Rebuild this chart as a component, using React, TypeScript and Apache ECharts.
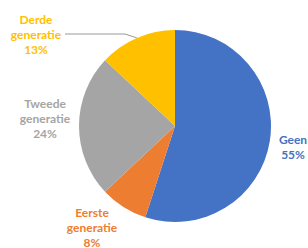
import React, { useEffect, useRef } from "react";
import * as echarts from "echarts";

const categories = ["Geen", "Eerste\ngeneratie", "Tweede\ngeneratie", "Derde\ngeneratie"];
const values = [55, 8, 24, 13];
const colors = ["#4472C4", "#ED7D31", "#A5A5A5", "#FFC000"];
const labelPos = [
  { x: 293, y: 147 },
  { x: 92, y: 227 },
  { x: 45, y: 118 },
  { x: 36, y: 34 },
];

export default function App() {
  const ref = useRef<HTMLDivElement>(null);
  useEffect(() => {
    if (!ref.current) return;
    const chart = echarts.init(ref.current, null, { renderer: "svg" });
    chart.setOption({
      animation: false,
      backgroundColor: "#ffffff",
      series: [
        {
          type: "pie",
          center: [175, 126],
          radius: 96,
          startAngle: 90,
          clockwise: true,
          avoidLabelOverlap: false,
          data: categories.map((c, i) => ({
            name: c,
            value: values[i],
            itemStyle: { color: colors[i] },
            label: { color: colors[i] },
            labelLine: { show: i === 3, lineStyle: { color: "#9A9A9A", width: 1 } },
          })),
          label: {
            show: true,
            position: "outside",
            formatter: (p: any) => `${p.name}\n${p.value}%`,
            fontFamily: "Lato",
            fontWeight: "bold",
            fontSize: 12,
            lineHeight: 15,
            align: "center",
            overflow: "none",
            width: 58,
          },
          labelLine: { length: 0, length2: 60, smooth: false },
          labelLayout: (params: any) => {
            const p = labelPos[params.dataIndex];
            return { x: p.x, y: p.y, align: "center", verticalAlign: "middle", hideOverlap: false };
          },
        },
      ],
    });
    return () => chart.dispose();
  }, []);
  return (
    <div
      ref={ref}
      style={{ position: "fixed", left: 0, top: 0, width: 308, height: 248 }}
    />
  );
}
